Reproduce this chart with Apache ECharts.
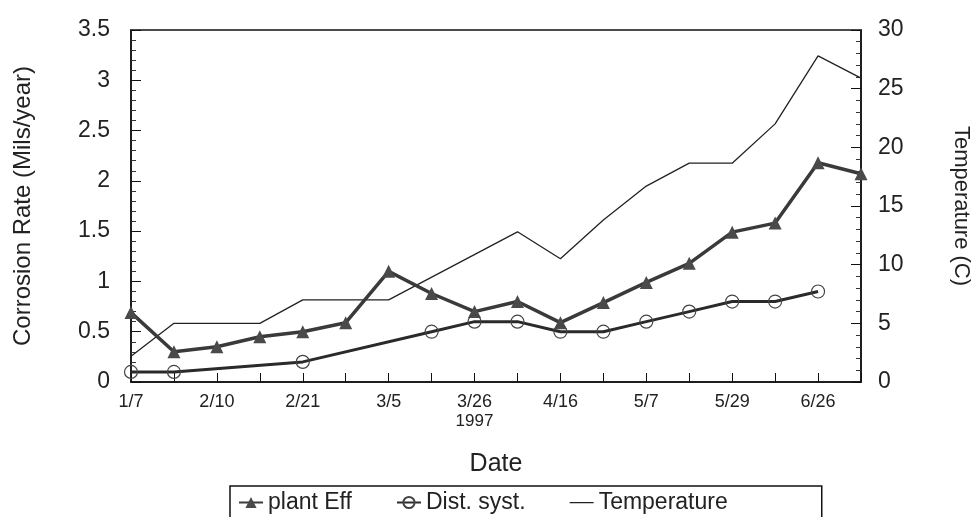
<!DOCTYPE html>
<html>
<head>
<meta charset="utf-8">
<script src="https://cdn.jsdelivr.net/npm/echarts@6/dist/echarts.min.js"></script>
<style>
html,body{margin:0;padding:0;background:#fff;}
#chart{width:980px;height:517px;}
</style>
</head>
<body>
<div id="chart"></div>
<script>
// Sampling dates (only every other one is labelled on the axis)
const categories = ['1/7','','2/10','','2/21','','3/5','','3/26','','4/16','','5/7','','5/29','','6/26',''];
// Corrosion rate, mils/year
const plantEff  = [0.69,0.30,0.35,0.45,0.50,0.59,1.10,0.88,0.70,0.80,0.59,0.79,0.99,1.18,1.49,1.58,2.18,2.07];
const distSyst  = [0.10,0.10,null,null,0.20,null,null,0.50,0.60,0.60,0.50,0.50,0.60,0.70,0.80,0.80,0.90,null];
// Temperature, C
const temperature = [2.2,5.0,5.0,5.0,7.0,7.0,7.0,null,null,12.8,10.5,13.8,16.7,18.65,18.65,22.0,27.8,25.9];
const leftTicks = {min:0, max:3.5, interval:0.5};
const rightTicks = {min:0, max:30, interval:5};
const yearLabel = '1997';

const FONT = '"Liberation Sans", Arial, sans-serif';
const TXT = '#222';
const LINE_ICON = 'path://M0,0 L24,0 L24,0.01 Z M0,6.4 L24,6.4 L24,7.7 L0,7.7 Z M0,14 L24,14 L24,14.01 Z';

const chart = echarts.init(document.getElementById('chart'), null, {renderer:'canvas'});
const option = {
  animation:false,
  backgroundColor:'#fff',
  textStyle:{fontFamily:FONT, color:TXT},
  grid:{left:131, right:112, top:30, bottom:135, show:true, borderColor:'#111', borderWidth:1.5, backgroundColor:'transparent'},
  legend:{
    left:230, top:486,
    orient:'horizontal',
    itemWidth:24, itemHeight:14, itemGap:44,
    borderColor:'#111', borderWidth:1.5,
    padding:[5,94,30,8],
    textStyle:{fontFamily:FONT, fontSize:23, color:TXT},
    data:['plant Eff','Dist. syst.',{name:'Temperature', icon:LINE_ICON}]
  },
  xAxis:{
    type:'category', data:categories, boundaryGap:false,
    name:'Date', nameLocation:'middle', nameGap:70,
    nameTextStyle:{fontFamily:FONT, fontSize:25, color:TXT},
    axisLine:{lineStyle:{color:'#111', width:1.5}},
    axisTick:{inside:true, length:9, interval:0, lineStyle:{color:'#111'}},
    axisLabel:{interval:0, margin:11, fontFamily:FONT, fontSize:18, color:TXT},
    splitLine:{show:false}
  },
  yAxis:[{
    type:'value', min:leftTicks.min, max:leftTicks.max, interval:leftTicks.interval,
    name:'Corrosion Rate (Mils/year)', nameLocation:'middle', nameGap:96,
    nameTextStyle:{fontFamily:FONT, fontSize:24, color:TXT},
    axisLine:{show:true, lineStyle:{color:'#111', width:1.5}},
    axisTick:{show:true, inside:true, length:10, lineStyle:{color:'#111'}},
    minorTick:{show:true, splitNumber:5, length:5, lineStyle:{color:'#333'}},
    axisLabel:{margin:21, fontFamily:FONT, fontSize:23, color:TXT},
    splitLine:{show:false}
  },{
    type:'value', position:'right', min:rightTicks.min, max:rightTicks.max, interval:rightTicks.interval,
    name:'Temperature (C)', nameLocation:'middle', nameGap:89, nameRotate:-90,
    nameTextStyle:{fontFamily:FONT, fontSize:22, color:TXT},
    axisLine:{show:true, lineStyle:{color:'#111', width:1.5}},
    axisTick:{show:true, inside:true, length:10, lineStyle:{color:'#111'}},
    minorTick:{show:true, splitNumber:5, length:5, lineStyle:{color:'#333'}},
    axisLabel:{margin:17, fontFamily:FONT, fontSize:23, color:TXT},
    splitLine:{show:false}
  }],
  series:[{
    name:'plant Eff', type:'line', yAxisIndex:0, data:plantEff,
    symbol:'triangle', symbolSize:13,
    itemStyle:{color:'#4a4a4a'},
    lineStyle:{color:'#3a3a3a', width:3.5},
    z:3
  },{
    name:'Dist. syst.', type:'line', yAxisIndex:0, data:distSyst, connectNulls:true,
    symbol:'circle', symbolSize:13,
    itemStyle:{color:'rgba(255,255,255,0)', borderColor:'#444', borderWidth:1.2},
    lineStyle:{color:'#2a2a2a', width:3},
    z:3
  },{
    name:'Temperature', type:'line', yAxisIndex:1, data:temperature, connectNulls:true,
    symbol:'none',
    itemStyle:{color:'#222'},
    lineStyle:{color:'#222', width:1.3},
    z:2
  }]
};
chart.setOption(option);
const px = chart.convertToPixel({xAxisIndex:0}, 8);
chart.setOption({graphic:[{
  type:'text', x:px, y:413,
  style:{text:yearLabel, font:'17px '+FONT, fill:TXT, textAlign:'center', textVerticalAlign:'top'}
}]});
</script>
</body>
</html>
